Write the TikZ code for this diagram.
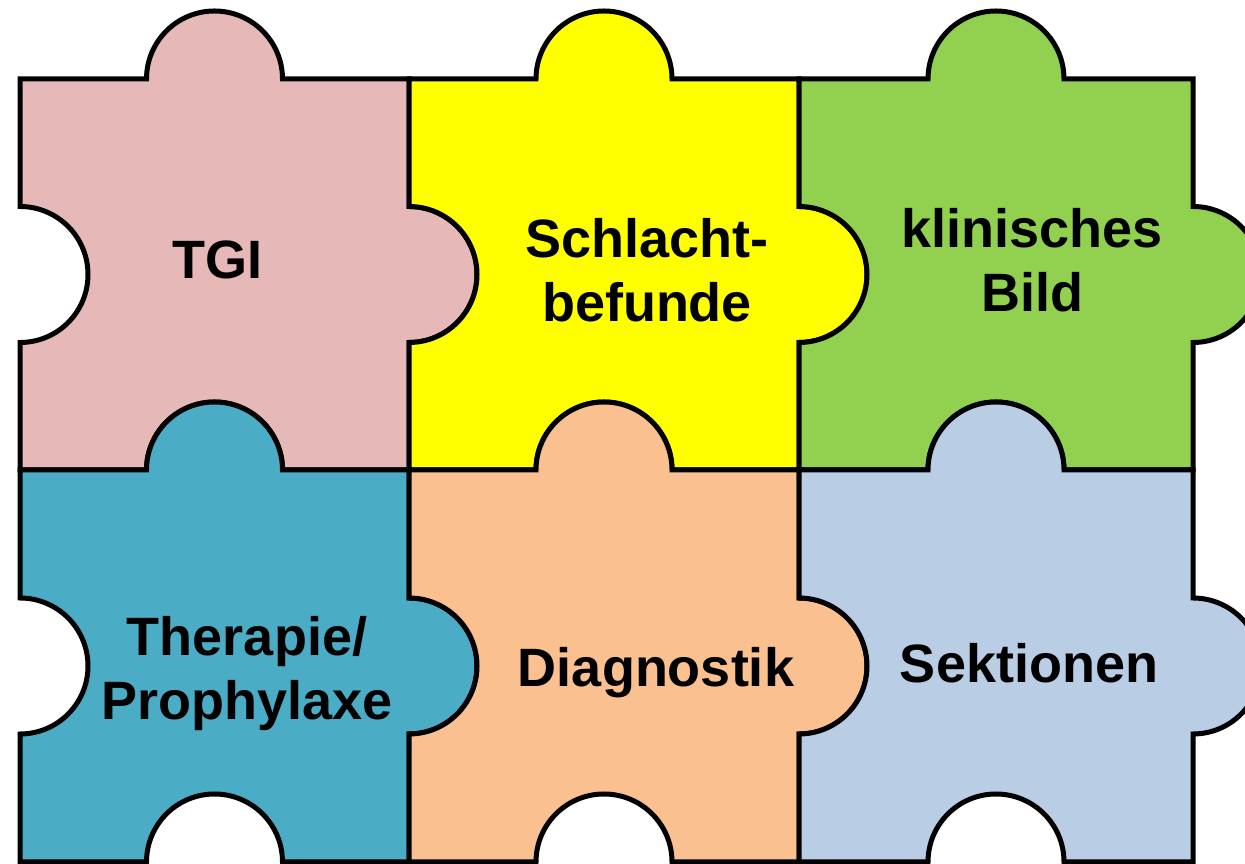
\documentclass[tikz,border=0pt]{standalone}
\usepackage{fontspec}
\setmainfont{Liberation Sans}
\definecolor{pzpink}{HTML}{E6B9B8}
\definecolor{pzyellow}{HTML}{FFFF00}
\definecolor{pzgreen}{HTML}{92D050}
\definecolor{pzblue}{HTML}{4BACC6}
\definecolor{pzorange}{HTML}{FAC090}
\definecolor{pzlight}{HTML}{B9CDE5}
\newcommand{\pzpiece}[5]{%
  \filldraw[piece, fill=#5]
    (#1,#3) -- ({(#1+#2)/2-68},#3)
    arc[start angle=180, end angle=0, radius=68pt] -- (#2,#3)
    -- (#2,{(#3+#4)/2+68})
    arc[start angle=90, end angle=-90, radius=68pt] -- (#2,#4)
    -- ({(#1+#2)/2+68},#4)
    arc[start angle=0, end angle=180, radius=68pt] -- (#1,#4)
    -- (#1,{(#3+#4)/2-68})
    arc[start angle=-90, end angle=90, radius=68pt] -- cycle;}
\begin{document}
\begin{tikzpicture}[x=1pt, y=1pt,
  piece/.style={draw=black, line width=5pt, line join=miter},
  label/.style={anchor=base, inner sep=0pt, font=\fontsize{54}{64}\selectfont\bfseries}]
\useasboundingbox (0,0) rectangle (1245,864);
\clip (0,0) rectangle (1245,864);
% top row
\pzpiece{20}{409}{785}{394}{pzpink}
\pzpiece{409}{799}{785}{394}{pzyellow}
\pzpiece{799}{1193}{785}{394}{pzgreen}
% bottom row
\pzpiece{20}{409}{394}{2}{pzblue}
\pzpiece{409}{799}{394}{2}{pzorange}
\pzpiece{799}{1193}{394}{2}{pzlight}
% labels
\node[label] (tgi) at (217,585) {TGI};
\node[label] (schlacht) at (647,606) {\begin{tabular}[t]{@{}c@{}}Schlacht-\\befunde\end{tabular}};
\node[label] (klinisch) at (1032,616) {\begin{tabular}[t]{@{}c@{}}klinisches\\Bild\end{tabular}};
\node[label] (therapie) at (247,208) {\begin{tabular}[t]{@{}c@{}}Therapie/\\Prophylaxe\end{tabular}};
\node[label] (diagnostik) at (656,177) {Diagnostik};
\node[label] (sektionen) at (1029,181) {Sektionen};
\end{tikzpicture}
\end{document}
